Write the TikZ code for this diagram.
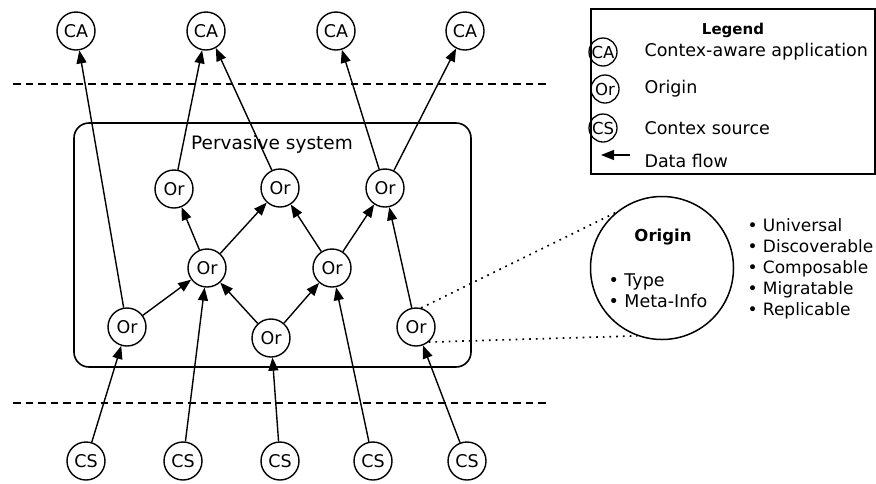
\documentclass[tikz,border=0pt]{standalone}
\usepackage{fontspec}
\setmainfont{DejaVu Sans}
\usetikzlibrary{arrows.meta}
\begin{document}
\begin{tikzpicture}[x=1pt,y=-1pt,
  every node/.style={font=\fontsize{17.5}{21}\selectfont},
  nd/.style={draw,circle,minimum size=38pt,inner sep=0pt,line width=1.4pt},
  lgc/.style={draw,circle,minimum size=28pt,inner sep=0pt,line width=1.3pt,font=\fontsize{16.5}{18}\selectfont},
  flow/.style={line width=1.4pt,-{Triangle[length=13pt,width=10pt]}},
  sep/.style={line width=1.4pt,dash pattern=on 7.5pt off 5pt},
  zoomline/.style={line width=1.7pt,dash pattern=on 1.7pt off 5pt},
  bigbox/.style={draw,line width=1.6pt,rounded corners=15pt}]
\useasboundingbox (0,0) rectangle (876,483);
% separators
\coordinate (s1a) at (13,84); \coordinate (s1b) at (547,84);
\coordinate (s2a) at (13,403); \coordinate (s2b) at (547,403);
\draw[sep] (s1a) -- (s1b);
\draw[sep] (s2a) -- (s2b);
% pervasive system box
\node[bigbox,minimum width=397pt,minimum height=244pt] (sys) at (272.5,245) {};
\node[font=\fontsize{18.5}{22}\selectfont] (systxt) at (272,144) {Pervasive system};
% CA
\node[nd] (ca1) at (76,31) {CA};
\node[nd] (ca2) at (206,31) {CA};
\node[nd] (ca3) at (336,31) {CA};
\node[nd] (ca4) at (465,31) {CA};
% Origins
\node[nd] (t1) at (174,189) {Or};
\node[nd] (t2) at (280,188) {Or};
\node[nd] (t3) at (385,188) {Or};
\node[nd] (m1) at (207,268) {Or};
\node[nd] (m2) at (332,268) {Or};
\node[nd] (l1) at (127,327) {Or};
\node[nd] (l2) at (271,338) {Or};
\node[nd] (l3) at (416,327) {Or};
% CS
\node[nd] (cs1) at (86,461) {CS};
\node[nd] (cs2) at (183,461) {CS};
\node[nd] (cs3) at (280,461) {CS};
\node[nd] (cs4) at (373,461) {CS};
\node[nd] (cs5) at (467,461) {CS};
% flows
\draw[flow] (l1) -- (ca1);
\draw[flow] (t1) -- (ca2);
\draw[flow] (t2) -- (ca2.-60);
\draw[flow] (t3) -- (ca3);
\draw[flow] (t3) -- (ca4);
\draw[flow] (m1) -- (t1);
\draw[flow] (m1) -- (t2);
\draw[flow] (m2) -- (t2);
\draw[flow] (m2) -- (t3);
\draw[flow] (l3) -- (t3);
\draw[flow] (l1) -- (m1);
\draw[flow] (l2) -- (m1);
\draw[flow] (l2) -- (m2);
\draw[flow] (cs1) -- (l1);
\draw[flow] (cs2) -- (m1);
\draw[flow] (cs3) -- (l2);
\draw[flow] (cs4) -- (m2);
\draw[flow] (cs5) -- (l3);
% origin zoom
\node[draw,circle,minimum size=143pt,inner sep=0pt,line width=1.5pt] (orz) at (662,268) {};
\node[font=\bfseries\fontsize{16.5}{19}\selectfont] (orztitle) at (663,237) {Origin};
\node[anchor=west,align=left] (orzlist) at (605,290.5) {• Type\\• Meta-Info};
\node[anchor=west,align=left,font=\fontsize{17}{21}\selectfont] (props) at (744,268.5) {• Universal\\• Discoverable\\• Composable\\• Migratable\\• Replicable};
\draw[zoomline] (l3.75) -- (orz.130);
\draw[zoomline] (l3.-50) -- (orz.-110);
% legend
\node[draw,line width=1.6pt,minimum width=284pt,minimum height=165pt,inner sep=0pt] (leg) at (733,91.5) {};
\node[font=\bfseries\fontsize{15}{17}\selectfont] (legt) at (733,30) {Legend};
\node[lgc] (lca) at (603,52) {CA};
\node[lgc] (lor) at (605,89) {Or};
\node[lgc] (lcs) at (603,128) {CS};
\node[anchor=west] (lcat) at (641,52) {Contex-aware application};
\node[anchor=west] (lort) at (641,89) {Origin};
\node[anchor=west] (lcst) at (641,128) {Contex source};
\node[anchor=west] (lflt) at (641,161) {Data flow};
\coordinate (fa) at (630,155);
\coordinate (fb) at (601,155);
\draw[flow] (fa) -- (fb);
\end{tikzpicture}
\end{document}
